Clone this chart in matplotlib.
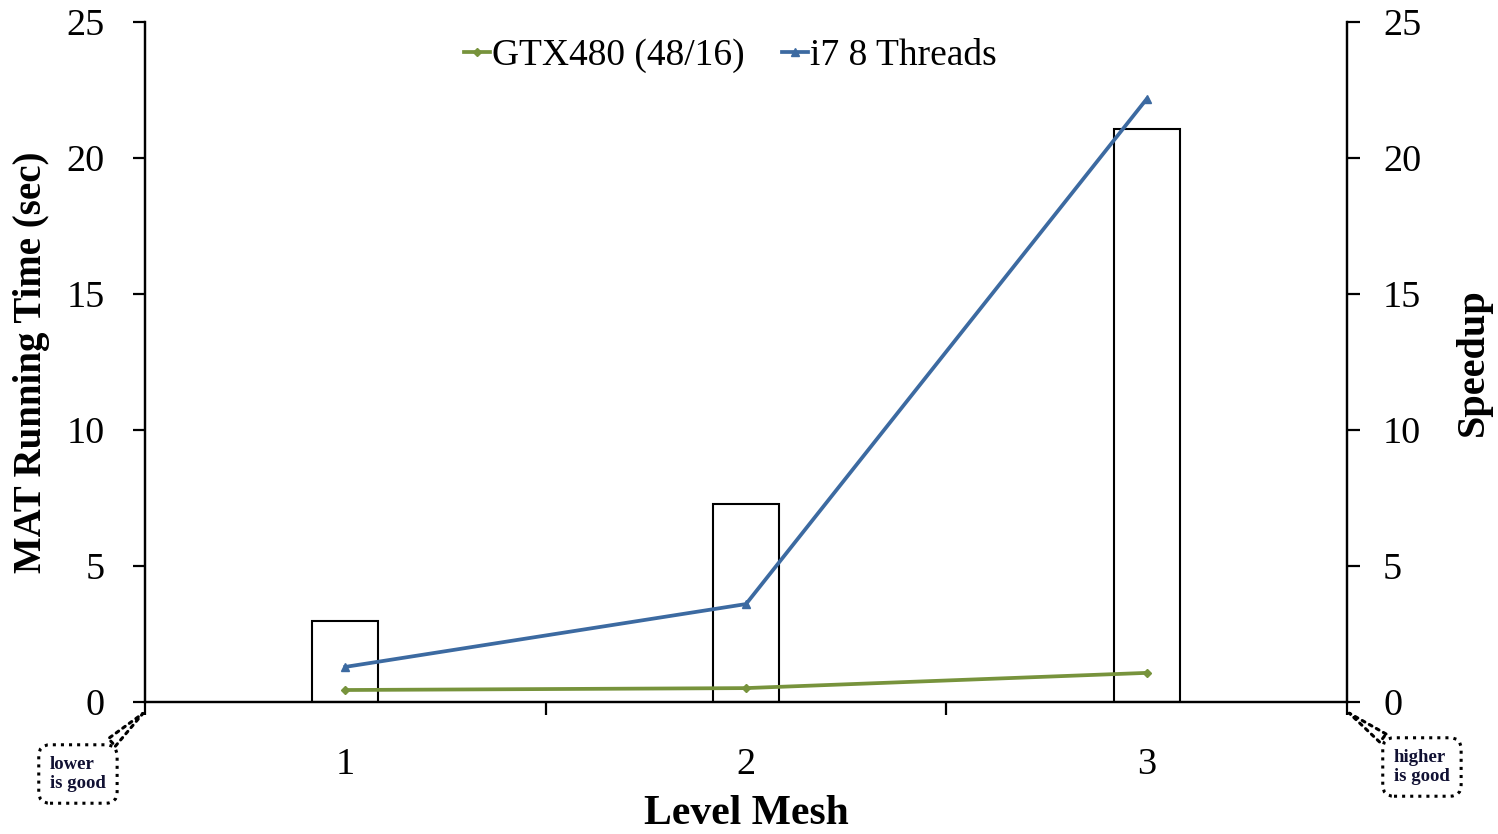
import matplotlib.pyplot as plt
import numpy as np

plt.rcParams['font.family'] = ['Liberation Serif', 'DejaVu Serif']

levels = [1, 2, 3]
level_labels = ['1', '2', '3']
mat_time = [2.98, 7.28, 21.07]
gtx480 = [0.44, 0.51, 1.07]
i7_threads = [1.29, 3.60, 22.17]

green = '#77933C'
blue = '#3C6AA1'

fig = plt.figure(figsize=(14.98, 8.34), dpi=100)
ax = fig.add_axes([0.0968, 0.1583, 0.8024, 0.8153])
ax2 = ax.twinx()

x = np.array(levels)
ax.bar(x, mat_time, width=0.165, facecolor='white', edgecolor='black', linewidth=1.5, zorder=2)

ax2.plot(x, gtx480, color=green, lw=2.7, marker='D', ms=4, label='GTX480 (48/16)')
ax2.plot(x, i7_threads, color=blue, lw=2.7, marker='^', ms=6, label='i7 8 Threads')

for a in (ax, ax2):
    a.set_ylim(0, 25)
    a.set_yticks([0, 5, 10, 15, 20, 25])
    a.spines['top'].set_visible(False)
    for s in a.spines.values():
        s.set_linewidth(1.6)
    a.tick_params(axis='y', direction='out', length=9, width=1.6, labelsize=27.5, pad=20)
ax.set_xlim(0.5, 3.5)
ax.set_xticks(x)
ax.set_xticklabels(level_labels)
ax.set_xticks([0.5, 1.5, 2.5, 3.5], minor=True)
ax.tick_params(axis='x', which='major', length=0, labelsize=27.5, pad=33)
ax.tick_params(axis='x', which='minor', direction='out', length=9, width=1.6)
ax2.tick_params(axis='y', pad=17)

ax.set_ylabel('MAT Running Time (sec)', fontsize=28, fontweight='bold', labelpad=12)
ax2.set_ylabel('Speedup', fontsize=29, fontweight='bold', labelpad=24)
ax.set_xlabel('Level Mesh', fontsize=30, fontweight='bold', labelpad=9)

ax2.legend(loc='upper center', bbox_to_anchor=(0.487, 1.025), ncol=2, frameon=False,
           fontsize=27, handlelength=0.7, handletextpad=0.05, columnspacing=1.0)

box = dict(boxstyle='round,pad=0.6,rounding_size=0.6', fc='white', ec='black', ls=':', lw=2.2)
arrow = dict(arrowstyle='wedge,tail_width=0.55,shrink_factor=0.5', fc='white', ec='black', ls=':', lw=2.2)
ax.annotate('lower\nis good', xy=(0.5, -0.35), xycoords='data', xytext=(50, 60),
            textcoords='figure pixels', fontsize=13.5, fontweight='bold', color='#111133',
            ha='left', va='center', linespacing=1.15, bbox=box, arrowprops=arrow,
            annotation_clip=False)
ax.annotate('higher\nis good', xy=(3.5, -0.35), xycoords='data', xytext=(1394, 67),
            textcoords='figure pixels', fontsize=13.5, fontweight='bold', color='#111133',
            ha='left', va='center', linespacing=1.15, bbox=box, arrowprops=arrow,
            annotation_clip=False)

fig.savefig('out.png', dpi=100)
